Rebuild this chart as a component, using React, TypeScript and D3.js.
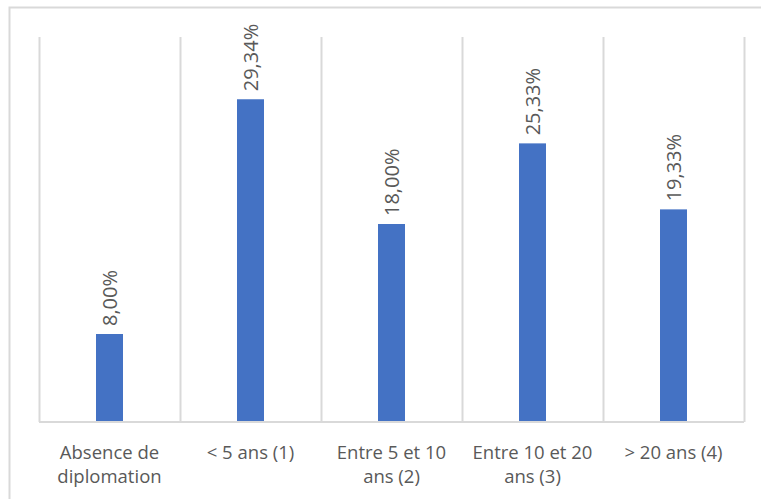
import React, { useRef, useEffect } from 'react';
import * as d3 from 'd3';

// categories (already split into lines as in the picture)
const categories: string[][] = [
  ['Absence de', 'diplomation'],
  ['< 5 ans (1)'],
  ['Entre 5 et 10', 'ans (2)'],
  ['Entre 10 et 20', 'ans (3)'],
  ['> 20 ans (4)'],
];
const values: number[] = [8.0, 29.34, 18.0, 25.33, 19.33];
const labels: string[] = ['8,00%', '29,34%', '18,00%', '25,33%', '19,33%'];

const WIDTH = 761;
const HEIGHT = 499;

export default function App() {
  const ref = useRef<SVGSVGElement>(null);

  useEffect(() => {
    const svg = d3.select(ref.current);
    svg.selectAll('*').remove();

    const margin = { top: 37, right: 17, bottom: 77, left: 39 };
    const width = WIDTH - margin.left - margin.right;
    const height = HEIGHT - margin.top - margin.bottom;
    const font = "'Open Sans', 'Noto Sans', sans-serif";

    // outer frame (only top and left visible, the rest is cropped)
    svg.append('rect')
      .attr('x', 9.5).attr('y', 7.5)
      .attr('width', 800).attr('height', 600)
      .attr('fill', 'none')
      .attr('stroke', '#d9d9d9')
      .attr('stroke-width', 2);

    const g = svg.append('g').attr('transform', `translate(${margin.left},${margin.top})`);

    const x = d3.scaleBand<number>()
      .domain(values.map((_, i) => i))
      .range([0, width])
      .paddingInner(0).paddingOuter(0);

    const y = d3.scaleLinear().domain([0, 35]).range([height, 0]);

    // vertical separators
    g.selectAll('.sep')
      .data(d3.range(values.length + 1))
      .enter().append('line')
      .attr('x1', d => Math.round(d * x.step()) + 0.5)
      .attr('x2', d => Math.round(d * x.step()) + 0.5)
      .attr('y1', 0)
      .attr('y2', height)
      .attr('stroke', '#d9d9d9')
      .attr('stroke-width', 2);

    // baseline
    g.append('line')
      .attr('x1', 0).attr('x2', width)
      .attr('y1', height).attr('y2', height)
      .attr('stroke', '#d9d9d9')
      .attr('stroke-width', 2);

    const barW = 27;
    g.selectAll('.bar')
      .data(values)
      .enter().append('rect')
      .attr('x', (_, i) => x(i)! + x.bandwidth() / 2 - barW / 2)
      .attr('y', d => y(d))
      .attr('width', barW)
      .attr('height', d => height - y(d) - 1)
      .attr('fill', '#4472c4');

    // rotated value labels
    g.selectAll('.val')
      .data(values)
      .enter().append('text')
      .attr('transform', (d, i) => `translate(${x(i)! + x.bandwidth() / 2 + 7},${y(d) - 8}) rotate(-90)`)
      .attr('text-anchor', 'start')
      .attr('font-family', font)
      .attr('font-size', 20)
      .attr('fill', '#595959')
      .text((_, i) => labels[i]);

    // category labels
    categories.forEach((lines, i) => {
      const t = g.append('text')
        .attr('text-anchor', 'middle')
        .attr('font-family', font)
        .attr('font-size', 18.5)
        .attr('fill', '#595959');
      lines.forEach((line, j) => {
        t.append('tspan')
          .attr('x', x(i)! + x.bandwidth() / 2)
          .attr('y', height + 37 + j * 24)
          .text(line);
      });
    });
  }, []);

  return (
    <svg
      ref={ref}
      width={WIDTH}
      height={HEIGHT}
      style={{ position: 'absolute', left: 0, top: 0, background: '#fff' }}
    />
  );
}
